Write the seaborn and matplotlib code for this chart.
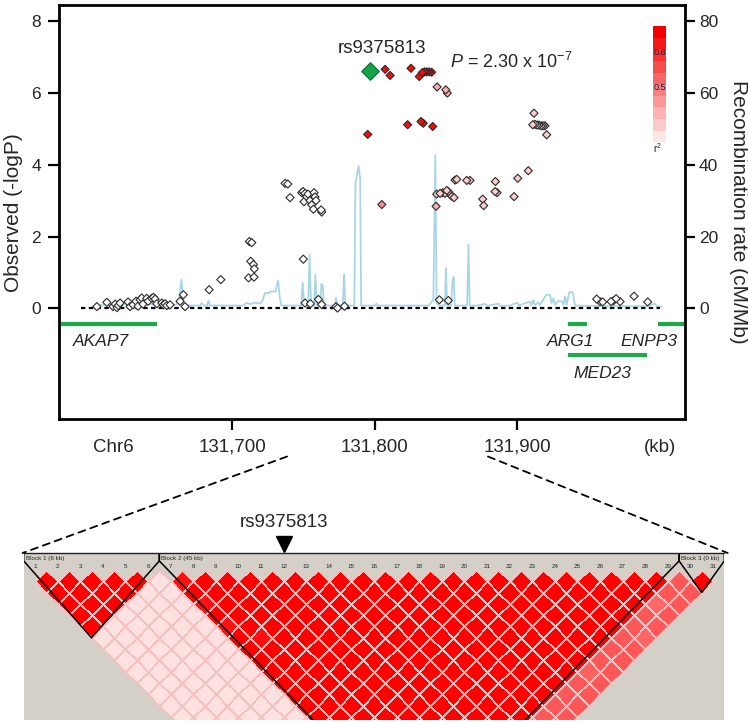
import numpy as np
import pandas as pd
import matplotlib
matplotlib.use("Agg")
import matplotlib.pyplot as plt
import matplotlib.colors as mcolors
from matplotlib.patches import ConnectionPatch, Polygon
from matplotlib.transforms import Affine2D
import seaborn as sns

# ── Association results (chr6 position in kb, -log10 P, r2 with lead SNP) ──
snp_pos = [
    131605.1, 131612.1, 131616.5, 131618.0, 131619.3, 131620.2, 131621.4, 131627.0,
    131628.4, 131630.5, 131632.6, 131634.0, 131635.4, 131636.6, 131637.5, 131640.1,
    131641.1, 131643.6, 131644.8, 131646.0, 131647.2, 131650.7, 131651.8, 131653.0,
    131654.2, 131656.5, 131663.5, 131665.8, 131667.0, 131683.9, 131692.1, 131711.6,
    131715.4, 131713.1, 131715.0, 131715.6, 131712.1, 131713.8, 131737.2, 131739.1,
    131740.7, 131748.9, 131749.8, 131750.5, 131751.2, 131752.4, 131753.3, 131754.7,
    131755.9, 131757.1, 131757.5, 131758.2, 131758.9, 131762.9, 131762.5, 131750.0,
    131751.2, 131755.0, 131760.6, 131762.9, 131773.0, 131774.0, 131778.9,
    131807.4, 131810.9, 131825.6, 131831.4, 131833.5, 131835.1, 131836.5, 131838.2,
    131840.1, 131795.2, 131823.2, 131832.6, 131834.2, 131840.8, 131805.1, 131843.9,
    131850.0, 131851.1, 131843.2,
    131843.6, 131846.0, 131847.8, 131849.5, 131850.7, 131851.8, 131853.0, 131854.2,
    131855.8, 131856.5, 131857.7, 131864.7, 131867.0, 131875.9, 131876.6, 131884.8,
    131884.6, 131886.0, 131897.9, 131900.5, 131907.9, 131911.9, 131911.0, 131912.6,
    131914.0, 131915.4, 131916.8, 131918.2, 131919.6, 131920.8,
    131845.5, 131851.8, 131955.9, 131958.2, 131960.1, 131966.0, 131967.6, 131969.5,
    131972.3, 131982.1, 131991.7,
]
snp_logp = [
    0.05, 0.17, 0.05, 0.12, 0.02, 0.08, 0.15, 0.18,
    0.05, 0.10, 0.20, 0.06, 0.24, 0.29, 0.12, 0.28,
    0.20, 0.28, 0.31, 0.26, 0.13, 0.15, 0.10, 0.13,
    0.08, 0.10, 0.20, 0.38, 0.05, 0.52, 0.80, 0.85,
    0.87, 1.31, 1.22, 1.10, 1.86, 1.83, 3.48, 3.46,
    3.08, 3.22, 3.25, 2.97, 3.20, 3.11, 3.18, 3.00,
    2.88, 2.76, 3.22, 3.10, 3.00, 2.68, 2.74, 1.37,
    0.15, 0.13, 0.25, 0.11, 0.05, 0.01, 0.06,
    6.65, 6.48, 6.68, 6.45, 6.56, 6.58, 6.58, 6.58,
    6.57, 4.84, 5.11, 5.20, 5.15, 5.06, 2.89, 6.16,
    6.08, 5.99, 2.84,
    3.18, 3.20, 3.22, 3.20, 3.28, 3.25, 3.18, 3.12,
    3.08, 3.57, 3.59, 3.56, 3.56, 3.04, 2.86, 3.53,
    3.25, 3.22, 3.11, 3.62, 3.83, 5.43, 5.11, 5.12,
    5.10, 5.10, 5.08, 5.08, 5.08, 4.83,
    0.24, 0.22, 0.26, 0.19, 0.18, 0.19, 0.21, 0.27,
    0.19, 0.34, 0.18,
]
snp_r2 = (
    [0.0] * 63
    + [0.95] * 14 + [0.45, 0.32, 0.32, 0.32, 0.32]
    + [0.2] * 30
    + [0.03] * 11
)

lead_name = "rs9375813"
lead_pos = 131796.8
lead_logp = 6.61
lead_p_text = r"$\it{P}$ = 2.30 x 10$^{-7}$"

# ── Recombination rate (cM/Mb) ──
recomb_pos = [
    131605, 131640, 131661, 131663, 131664.5, 131665.8, 131667, 131677.5, 131678.7,
    131680, 131682.5, 131683.4, 131684.5, 131708, 131710, 131713, 131716, 131719.5,
    131721.5, 131723, 131726, 131727, 131730.5, 131732.3, 131733.5, 131734.5,
    131748.5, 131749.6, 131750.6, 131753.4, 131754.4, 131755.4, 131757.6, 131758.5,
    131759.4, 131761.8, 131762.7, 131763.6, 131764.5, 131772.2, 131773.0, 131773.8,
    131777.7, 131778.6, 131779.5, 131785.8, 131786.6, 131788.8, 131789.9, 131790.6,
    131800.5, 131801.3, 131802.2, 131838, 131839.5, 131841.3, 131842.6, 131843.6,
    131845, 131849.4, 131850.1, 131850.9, 131853.8, 131854.6, 131855.5, 131856.3,
    131865, 131865.9, 131866.8, 131872, 131875, 131877.5, 131879, 131886.9, 131888,
    131895, 131900.2, 131901.2, 131909.1, 131910, 131911.4, 131912.5, 131914.9,
    131916, 131920.5, 131923.2, 131924.2, 131925.5, 131926.5, 131928.8, 131931.4,
    131932.5, 131933.7, 131934.8, 131936.7, 131939.1, 131940.7, 131960, 131975,
    131990, 131996.8, 131998, 132001.5,
]
recomb_rate = [
    1.0, 1.2, 1.0, 3.0, 8.0, 2.0, 0.8, 0.8, 1.5,
    0.8, 0.8, 2.2, 0.8, 0.8, 1.5, 1.2, 1.6, 1.3,
    2.2, 4.3, 4.3, 4.7, 4.7, 7.8, 3.0, 0.8,
    0.8, 7.2, 0.8, 0.8, 14.9, 0.8, 0.8, 9.4,
    0.8, 0.8, 6.8, 6.5, 0.8, 0.8, 2.9, 0.8,
    0.8, 9.5, 0.8, 0.8, 34.8, 39.6, 36.0, 0.8,
    0.8, 1.4, 0.8, 0.8, 1.5, 2.5, 42.7, 1.5,
    0.8, 0.8, 11.2, 0.8, 0.8, 7.0, 8.8, 0.8,
    0.8, 17.7, 0.8, 0.8, 1.0, 1.3, 0.7, 1.3, 0.7,
    0.8, 1.6, 0.8, 1.9, 0.9, 2.3, 0.9, 1.6,
    0.9, 3.8, 3.8, 1.5, 2.8, 1.0, 2.0, 2.0,
    1.0, 3.3, 1.0, 4.5, 4.5, 0.8, 0.6, 0.6,
    0.6, 1.3, 0.6, 0.5,
]
baseline_kb = [131594, 132000]

# ── Genes ──
gene_names = ["AKAP7", "ARG1", "MED23", "ENPP3"]
gene_start = [131560, 131936, 131936, 131999]
gene_end = [131647, 131949, 131991, 132040]
gene_track = [-0.42, -0.42, -1.30, -0.42]
gene_label_x = [131608, 131937.7, 131959.8, 131992.6]
gene_label_y = [-0.93, -0.93, -1.82, -0.93]

r2_legend_levels = [1.0, 0.9, 0.8, 0.7, 0.6, 0.5, 0.4, 0.3, 0.2, 0.1]
r2_legend_marks = [0.8, 0.5]

# ── Haploview LD block (31 SNPs) ──
ld_snp_ids = list(range(1, 32))
ld_snp_block = [1, 1, 1, 1, 1, 1,
                2, 2, 2, 2, 2, 2, 2, 2, 2, 2, 2, 2, 2, 2, 2, 2, 2, 2, 2, 2, 2, 2, 2,
                3, 3]
ld_block_labels = ["Block 1 (6 kb)", "Block 2 (45 kb)", "Block 3 (0 kb)"]
ld_block_dprime = {(1, 1): 1.0, (2, 2): 1.0, (3, 3): 1.0,
                   (1, 2): 0.12, (2, 3): 0.66, (1, 3): 0.12}
ld_weak_pairs = [(7, 8, 0.93), (7, 10, 0.94), (7, 12, 0.93), (8, 14, 0.94),
                 (27, 30, 0.6), (25, 31, 0.6), (21, 30, 0.62)]
ld_lead_snp = 12
ld_region_kb = [131738.6, 131879.6]


# ── Figure ────────────────────────────────────────────────────────────────────
sns.set_theme(style="ticks")
plt.rcParams["font.family"] = ["Liberation Sans", "DejaVu Sans"]
plt.rcParams["mathtext.fontset"] = "custom"
plt.rcParams["mathtext.rm"] = "Liberation Sans"
plt.rcParams["mathtext.it"] = "Liberation Sans:italic"

fig = plt.figure(figsize=(7.48, 7.25), dpi=100)
ax = fig.add_axes([0.079, 0.4214, 0.837, 0.5717])
ax2 = ax.twinx()

r2_cmap = mcolors.LinearSegmentedColormap.from_list("r2", ["#FFFFFF", "#F20000"])

# recombination rate underneath
sns.lineplot(x=recomb_pos, y=recomb_rate, ax=ax2, color="#A9D6E5", lw=1.3,
             estimator=None, sort=False)
ax2.set_ylim(-30.9, 84.4)
ax2.set_yticks([0, 20, 40, 60, 80])
ax2.tick_params(axis="y", direction="out", length=7, width=1.6, labelsize=12.5,
                pad=3, right=True, color="black")
ax2.set_ylabel("Recombination rate (cM/Mb)", fontsize=15, rotation=270,
               va="bottom", labelpad=8)
for sp in ax2.spines.values():
    sp.set_visible(False)

ax.set_zorder(ax2.get_zorder() + 1)
ax.patch.set_visible(False)

ax.plot(baseline_kb, [0, 0], ls=(0, (2.0, 1.5)), color="black", lw=1.6, zorder=2)

for name, s, e, t, lx, ly in zip(gene_names, gene_start, gene_end, gene_track,
                                 gene_label_x, gene_label_y):
    ax.plot([s, e], [t, t], color="#1FAA4A", lw=3, solid_capstyle="butt", zorder=2)
    ax.text(lx, ly, name, fontsize=12.5, style="italic", ha="center", va="center")

df = pd.DataFrame({"pos": snp_pos, "logp": snp_logp, "r2": snp_r2}).sort_values("r2")
sns.scatterplot(data=df, x="pos", y="logp", hue="r2", palette=r2_cmap, hue_norm=(0, 1),
                marker="D", s=17, edgecolor="#2b2b2b", linewidth=0.8, legend=False,
                ax=ax, zorder=3)
sns.scatterplot(x=[lead_pos], y=[lead_logp], marker="D", s=80, color="#17A34A",
                edgecolor="#0E6B30", linewidth=0.8, ax=ax, zorder=4)
ax.text(131805.3, 7.23, lead_name, fontsize=13.5, ha="center", va="center")
ax.text(131853, 6.85, lead_p_text, fontsize=13, ha="left", va="center")

ax.set_xlim(131578.6, 132018)
ax.set_ylim(-3.09, 8.44)
ax.set_yticks([0, 2, 4, 6, 8])
ax.set_xticks([131616.7, 131700, 131800, 131900, 132000.4])
ax.set_xticklabels(["Chr6", "131,700", "131,800", "131,900", "(kb)"])
ax.get_xticklabels()[0].set_fontsize(14.5)
for i in (0, 4):
    ax.xaxis.get_major_ticks()[i].tick1line.set_visible(False)
ax.tick_params(axis="both", direction="out", length=8, width=1.6, color="black")
ax.tick_params(axis="y", labelsize=12.5, pad=5)
ax.tick_params(axis="x", labelsize=13.5, pad=6)
ax.set_xlabel("")
ax.set_ylabel("Observed (-logP)", fontsize=15, labelpad=6)
for sp in ax.spines.values():
    sp.set_visible(True)
    sp.set_linewidth(2)
    sp.set_color("black")

# r2 colour key
cax = ax.inset_axes([0.949, 0.669, 0.021, 0.28])
sns.heatmap(np.array(r2_legend_levels)[:, None], cmap=r2_cmap, vmin=0, vmax=1,
            cbar=False, ax=cax, xticklabels=False, yticklabels=False)
cax.set(xlabel="", ylabel="")
for v in r2_legend_marks:
    cax.text(0.5, (1 - v) * len(r2_legend_levels) + 0.3, f"{v:.1f}", fontsize=6.5,
             ha="center", va="center", color="#1a1a3a")
cax.text(0.3, len(r2_legend_levels) + 0.5, r"r$^2$", fontsize=7, ha="center",
         va="center", color="#1a1a3a", clip_on=False)

# ── LD plot ──
n = len(ld_snp_ids)
dprime = np.full((n, n), np.nan)
for i in range(n):
    for j in range(i + 1, n):
        key = tuple(sorted((ld_snp_block[i], ld_snp_block[j])))
        dprime[i, j] = ld_block_dprime[key]
for a, b, v in ld_weak_pairs:
    dprime[a - 1, b - 1] = v

ax_ld = fig.add_axes([0.0317, 0.0069, 0.9366, 0.2303])
ld_cmap = mcolors.LinearSegmentedColormap.from_list("ld", ["#FFFFFF", "#FF0000"])
sns.heatmap(dprime, cmap=ld_cmap, vmin=0, vmax=1, cbar=False, linewidths=0.45,
            linecolor="#F5C0C0", ax=ax_ld, xticklabels=False, yticklabels=False)
mesh = ax_ld.collections[0]
ec = np.tile(mcolors.to_rgba("#F5C0C0"), (n * n, 1))
ec[np.isnan(dprime).ravel(), 3] = 0
mesh.set_edgecolor(ec)
mesh.set_transform(Affine2D(np.array([[0.5, 0.5, -0.5], [0.5, -0.5, 0.0], [0, 0, 1]]))
                   + ax_ld.transData)
ax_ld.set_facecolor("#D4D0C8")
ax_ld.set_xlim(-0.5, n - 0.5)
ax_ld.set_ylim(6.64, -0.75)
ax_ld.set(xlabel="", ylabel="", xticks=[], yticks=[])
for sp in ax_ld.spines.values():
    sp.set_visible(False)

for b, label in enumerate(ld_block_labels, start=1):
    idx = [i for i, blk in enumerate(ld_snp_block) if blk == b]
    a, z = idx[0], idx[-1]
    xb, yb = (a + z) / 2, (z - a) / 2 + 0.5
    pts = [(a - 0.5, -0.75), (a - 0.5, -0.4), (xb, yb), (z + 0.5, -0.4), (z + 0.5, -0.75)]
    ax_ld.add_patch(Polygon(pts, closed=False, fill=False, ec="black", lw=1.1))
    ax_ld.text(a - 0.42, -0.52, label, fontsize=4.5, ha="left", va="center")
ax_ld.plot([-0.5, n - 0.5], [-0.75, -0.75], color="#222222", lw=1.0, clip_on=False)
for i, sid in enumerate(ld_snp_ids):
    ax_ld.text(i, -0.14, str(sid), fontsize=4.5, ha="center", va="center")

ax_ld.plot(ld_lead_snp - 1, -1.15, marker="v", ms=12, color="black", clip_on=False)
ax_ld.text(ld_lead_snp - 1, -2.08, lead_name, fontsize=13.5, ha="center", va="center")

for kb, ld_x in zip(ld_region_kb, [-0.55, n - 0.35]):
    con = ConnectionPatch(xyA=(kb, -4.12), coordsA=ax.transData,
                          xyB=(ld_x, -0.75), coordsB=ax_ld.transData,
                          ls=(0, (4, 3)), lw=1.3, color="black")
    fig.add_artist(con)

fig.savefig("out.png", dpi=100)
